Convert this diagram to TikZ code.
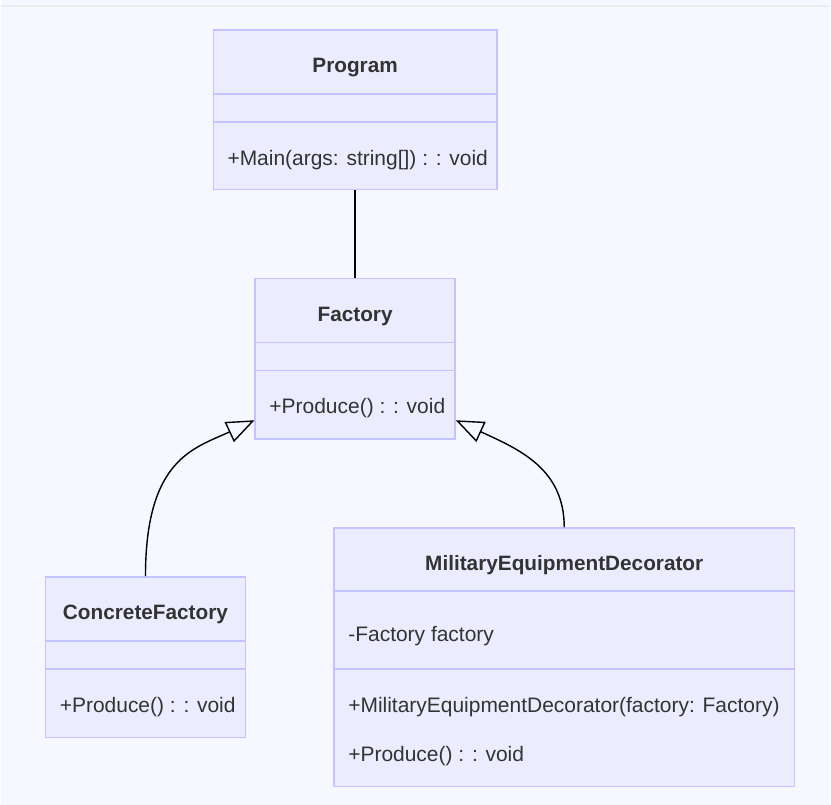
\documentclass[tikz,border=0pt]{standalone}
\usepackage{fontspec}
\setmainfont{Liberation Sans}
\usetikzlibrary{arrows.meta}
\definecolor{pagebg}{HTML}{F6F8FF}
\definecolor{umlfill}{HTML}{ECECFF}
\definecolor{umlborder}{HTML}{C3C3FF}
\definecolor{umltext}{HTML}{333333}
\begin{document}
\begin{tikzpicture}[x=1pt, y=-1pt,
    classbox/.style={draw=umlborder, fill=umlfill, line width=1.6pt, inner sep=0pt},
    divider/.style={draw=umlborder, line width=1.6pt},
    title/.style={font=\fontsize{20.8}{25}\selectfont\bfseries, text=umltext},
    member/.style={font=\fontsize{21}{25}\selectfont, text=umltext, anchor=west, inner sep=0pt},
    link/.style={line width=1.4pt, black},
    inherit/.style={link, -{Triangle[open, length=28pt, width=22pt, line width=1.4pt]}}]

    % 背景
    \fill[pagebg] (0,0) rectangle (831,806);
    \draw[gray!15, line width=1.5pt] (0,6) -- (831,6);

    % 类框
    \node[classbox, minimum width=284pt, minimum height=160pt] (prog) at (355,110) {};
    \node[classbox, minimum width=200pt, minimum height=161pt] (fact) at (355,359.5) {};
    \node[classbox, minimum width=200pt, minimum height=161pt] (conc) at (145,658.5) {};
    \node[classbox, minimum width=461pt, minimum height=259pt] (med) at (564.5,658.5) {};

    % 分隔线
    \draw[divider] (213,94) -- (497,94) (213,122) -- (497,122);
    \draw[divider] (255,343) -- (455,343) (255,371) -- (455,371);
    \draw[divider] (45,642) -- (245,642) (45,670) -- (245,670);
    \draw[divider] (334,592) -- (795,592) (334,670) -- (795,670);

    % 文字
    \node[title] (progname) at (355,68) {Program};
    \node[member] (progm1) at (227,160) {+Main(args: string[]) : : void};
    \node[title] (factname) at (355,317) {Factory};
    \node[member] (factm1) at (269,409) {+Produce() : : void};
    \node[title] (concname) at (145,616) {ConcreteFactory};
    \node[member] (concm1) at (59,708) {+Produce() : : void};
    \node[title] (medname) at (564.5,566) {MilitaryEquipmentDecorator};
    \node[member] (meda1) at (348,637) {-Factory factory};
    \node[member] (medm1) at (348,708) {+MilitaryEquipmentDecorator(factory: Factory)};
    \node[member] (medm2) at (348,757) {+Produce() : : void};

    % 连线
    \draw[link] (prog) -- (fact);
    \draw[inherit] (conc.north) .. controls +(0,-118) and +(-60,28) .. ([yshift=-61.5pt]fact.west);
    \draw[inherit] (med.north) .. controls +(0,-59) and +(63,29) .. ([yshift=-61.5pt]fact.east);

\end{tikzpicture}
\end{document}
